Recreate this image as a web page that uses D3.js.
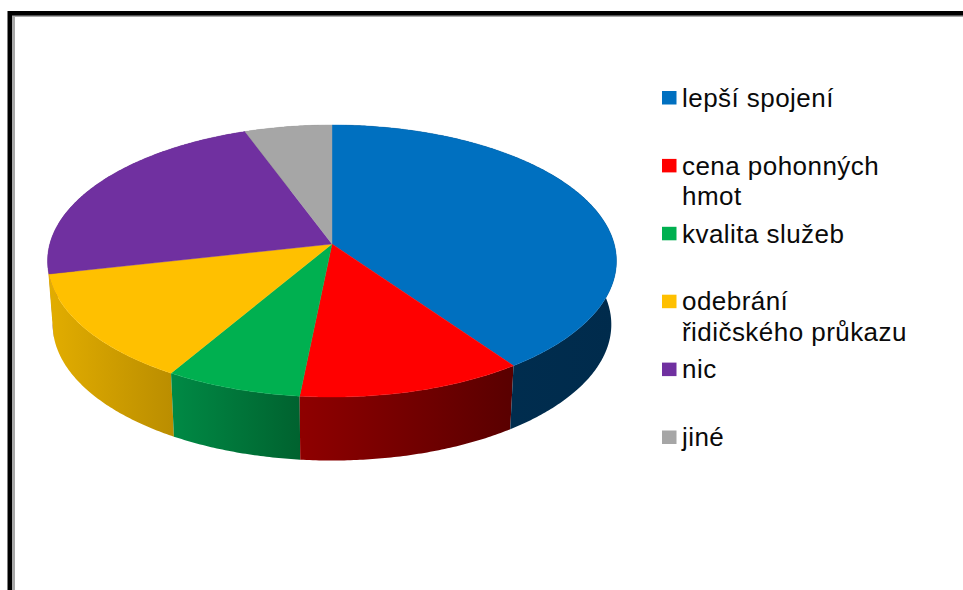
<!DOCTYPE html>
<html><head><meta charset="utf-8">
<script src="https://cdn.jsdelivr.net/npm/d3@7/dist/d3.min.js"></script>
<style>html,body{margin:0;padding:0;background:#fff;overflow:hidden}svg{display:block}</style>
</head><body><svg id="c" width="963" height="590"></svg>
<script>
const categories = ["lepší spojení","cena pohonných hmot","kvalita služeb","odebrání řidičského průkazu","nic","jiné"];
const values = [40.2, 11.4, 6.9, 13.0, 22.9, 5.6];
const legendLines = [["lepší spojení"],["cena pohonných","hmot"],["kvalita služeb"],["odebrání","řidičského průkazu"],["nic"],["jiné"]];
const topColors = ["#0070C0","#FF0000","#00B050","#FFC000","#7030A0","#A6A6A6"];
const sideFrom = ["#003052","#8f0000","#008a45","#e2ad00","#6a3a80","#7d7d7d"];
const sideTo   = ["#002b4c","#590000","#00622f","#bb8e00","#4a2268","#666666"];

const svg = d3.select("#c");
// Perspective-projected disc
const apex = {x:332, y:244}, a = 282.2, b = 133.9, k = 0.125, depth = 63.5, shrink = 0.982;
const project = t => {
  const x = Math.sin(t), y = -Math.cos(t), w = 1 - k*y;
  return [apex.x + a*x/w, apex.y + b*y/w];
};
const lower = ([x,y]) => [apex.x + (x-apex.x)*shrink, y + depth];
const pie = d3.pie().sort(null).value(d=>d)(values);
const line = d3.line();
const arcPts = (s,e) => {
  const n = Math.max(4, Math.ceil((e-s)/0.01));
  return d3.range(n+1).map(i => project(s + (e-s)*i/n));
};

// Frame
svg.append("rect").attr("x",12).attr("y",15).attr("width",951).attr("height",575).attr("fill","#a8a8a8");
svg.append("rect").attr("x",15).attr("y",17).attr("width",948).attr("height",573).attr("fill","#fff");
svg.append("path").attr("d","M7.5,590V11H963V15.5H12V590Z").attr("fill","#000");

const defs = svg.append("defs");
pie.forEach((p,i)=>{
  const pts = arcPts(p.startAngle,p.endAngle);
  const ext = d3.extent(pts,q=>q[0]);
  const g = defs.append("linearGradient").attr("id","g"+i).attr("gradientUnits","userSpaceOnUse")
    .attr("x1",ext[0]).attr("x2",ext[1]).attr("y1",0).attr("y2",0);
  g.append("stop").attr("offset",0).attr("stop-color",sideFrom[i]);
  g.append("stop").attr("offset",1).attr("stop-color",sideTo[i]);
});
// Walls: drawn last-slice-first, so a wall laps slightly over the next one's hairline seam on the far left
const seamLap = 0.035;
svg.append("g").selectAll("path").data(pie.slice().reverse()).join("path")
  .attr("d",p=>{
    const t = arcPts(p.startAngle, p.endAngle + (p.index === 3 ? seamLap : 0));
    return line(t.concat(t.slice().reverse().map(lower)))+"Z";
  })
  .attr("fill",p=>`url(#g${p.index})`);
// Top faces
svg.append("g").selectAll("path").data(pie).join("path")
  .attr("d",p=>line([[apex.x,apex.y]].concat(arcPts(p.startAngle,p.endAngle)))+"Z")
  .attr("fill",(p,i)=>topColors[i])
  .attr("stroke",(p,i)=>topColors[i]).attr("stroke-width",0.4);

// Legend
const ly = d3.scalePoint().domain(categories).range([106.7,446.2]);
const leg = svg.append("g").selectAll("g").data(categories).join("g")
  .attr("transform",d=>`translate(0,${ly(d)})`);
leg.append("rect").attr("x",662).attr("y",-15.7).attr("width",14.5).attr("height",13.5)
  .attr("fill",(d,i)=>topColors[i]);
leg.append("text").attr("x",682).attr("y",0)
  .attr("font-family","'Liberation Sans',Arial,sans-serif").attr("font-size",26).attr("letter-spacing",0.45).attr("fill","#0a0a0a")
  .selectAll("tspan").data((d,i)=>legendLines[i]).join("tspan")
  .attr("x",682).attr("dy",(d,i)=>i?30.5:0).text(d=>d);
</script></body></html>
